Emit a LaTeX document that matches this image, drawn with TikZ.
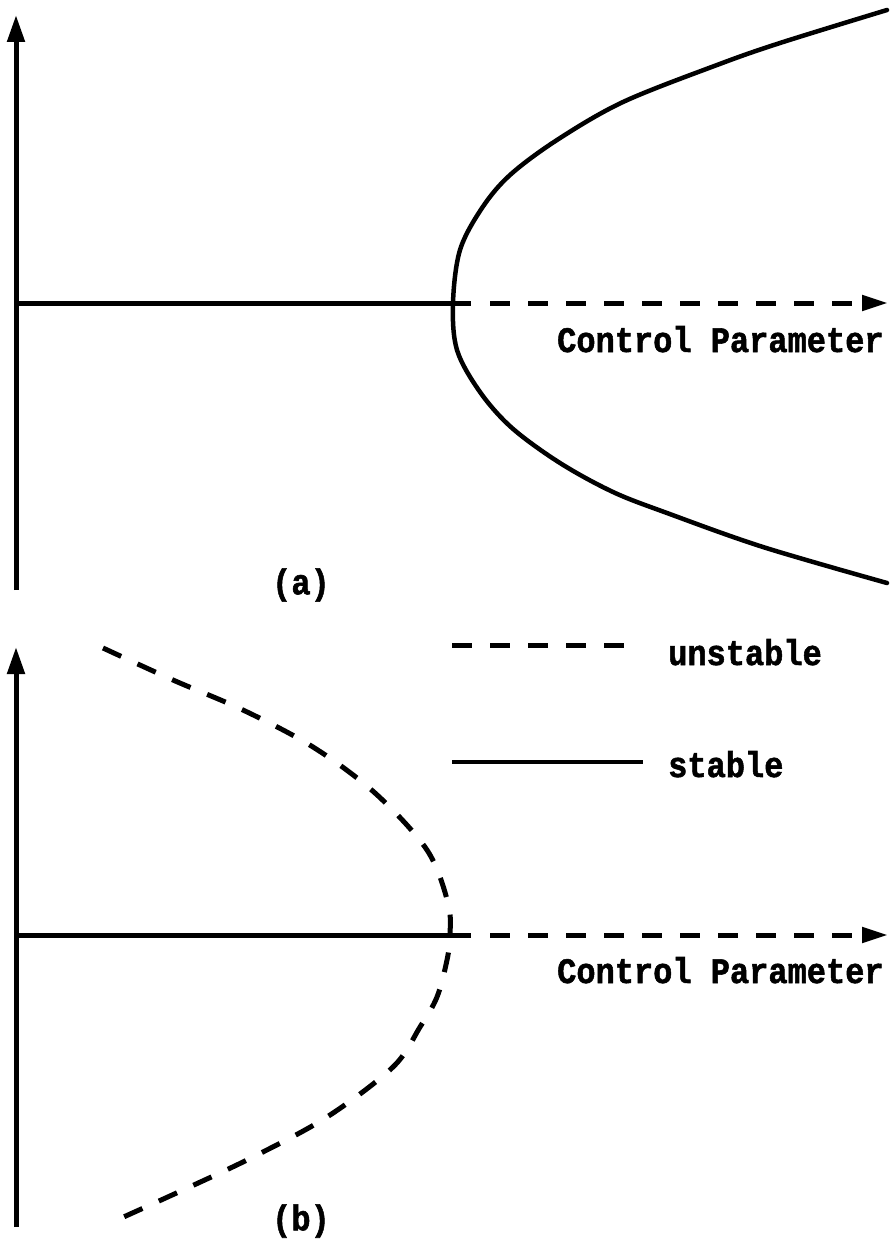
\documentclass[tikz,border=0pt]{standalone}
\usepackage{fontspec}
\newfontfamily\lblfont{Liberation Mono}[BoldFeatures={FakeBold=1.6}]
\usetikzlibrary{arrows.meta}
\newcommand{\tallbox}[1]{\scalebox{1}[1.12]{#1}}
\begin{document}
\begin{tikzpicture}[x=1pt,y=-1pt,
  vaxis/.style={line width=5pt,-{Triangle[length=27pt,width=17pt]}},
  haxis/.style={line width=5pt},
  daxis/.style={line width=5pt,dash pattern=on 20pt off 18pt,-{Triangle[length=26pt,width=15pt]}},
  curve/.style={line width=4.5pt,line join=round,line cap=round},
  dcurve/.style={line width=5pt,line join=round,dash pattern=on 20pt off 18pt},
  lbl/.style={font=\fontsize{32}{36}\selectfont\lblfont\bfseries,inner sep=0pt}]
\useasboundingbox (0,0) rectangle (890,1247);

% ---------- panel (a) ----------
\coordinate (aB) at (16,590);
\coordinate (aT) at (16,15);
\coordinate (aO) at (16,303);
\coordinate (aS) at (471,303);
\coordinate (aD) at (490,303);
\coordinate (aX) at (888,303);
\draw[vaxis] (aB) -- (aT);
\draw[haxis] (aO) -- (aS);
\draw[daxis] (aD) -- (aX);
\draw[curve] plot[smooth,tension=0.55] coordinates {
  (887,10) (780,43) (717,65) (623,102) (557,140) (510,175) (482,208) (460,250) (453,303)
  (457,350) (480,392) (512,428) (560,463) (613,492) (667,513) (763,547) (887,583)};
\node[lbl,anchor=base west] (aCP) at (557,352) {\tallbox{Control Parameter}};
\node[lbl] (aLab) at (301,585) {\tallbox{(a)}};

% ---------- legend ----------
\coordinate (uL) at (452,645);
\coordinate (uR) at (625,645);
\coordinate (sL) at (452,762);
\coordinate (sR) at (643,762);
\draw[dcurve] (uL) -- (uR);
\draw[haxis,line width=4.5pt] (sL) -- (sR);
\node[lbl,anchor=base west] (uT) at (668,665) {\tallbox{unstable}};
\node[lbl,anchor=base west] (sT) at (668,777) {\tallbox{stable}};

% ---------- panel (b) ----------
\coordinate (bB) at (16,1227);
\coordinate (bT) at (16,647);
\coordinate (bO) at (16,935);
\coordinate (bS) at (471,935);
\coordinate (bD) at (490,935);
\coordinate (bX) at (888,935);
\draw[vaxis] (bB) -- (bT);
\draw[haxis] (bO) -- (bS);
\draw[daxis] (bD) -- (bX);
\draw[dcurve] plot[smooth,tension=0.55] coordinates {
  (103,648) (173,680) (243,710) (313,747) (375,793) (427,850) (448,903) (450,935)
  (447,960) (437,997) (420,1027) (393,1067) (327,1117) (253,1157) (183,1190) (108,1224)};
\node[lbl,anchor=base west] (bCP) at (557,983) {\tallbox{Control Parameter}};
\node[lbl] (bLab) at (301,1221) {\tallbox{(b)}};
\end{tikzpicture}
\end{document}
